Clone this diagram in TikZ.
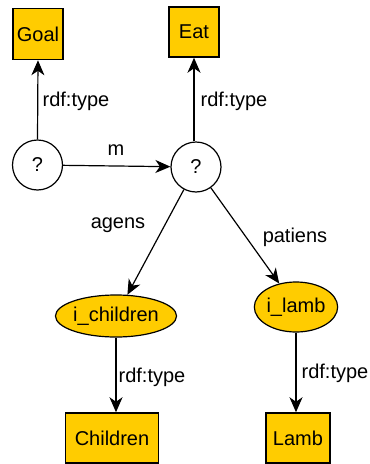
\documentclass[tikz,border=0pt]{standalone}
\usepackage{fontspec}
\setmainfont{Liberation Sans}
\usetikzlibrary{arrows.meta,shapes.geometric}
\definecolor{gold}{HTML}{FFCC00}
\begin{document}
\begin{tikzpicture}[x=1pt,y=-1pt,
  every node/.style={font=\fontsize{20}{22}\selectfont},
  cls/.style={draw,line width=1.5pt,fill=gold,rectangle,inner sep=0pt},
  var/.style={draw,line width=1.2pt,fill=white,circle,minimum size=50pt,inner sep=0pt},
  inst/.style={draw,line width=1.2pt,fill=gold,ellipse,inner sep=0pt},
  edge/.style={line width=1.2pt,-{Stealth[length=15pt,width=13pt,inset=4.5pt]}},
  lbl/.style={inner sep=0pt}]
\useasboundingbox (0,0) rectangle (370,464);
\node[cls,minimum width=50pt,minimum height=51pt] (goal) at (38,34) {Goal};
\node[cls,minimum width=50pt,minimum height=50pt] (eat) at (194,32) {Eat};
\node[var] (q1) at (37.5,165) {?};
\node[var] (q2) at (196,167) {?};
\node[inst,minimum width=115pt,minimum height=42pt] (ich) at (116,316) {i\_children};
\node[inst,minimum width=82pt,minimum height=50pt] (ila) at (296,307) {i\_lamb};
\node[cls,minimum width=93pt,minimum height=50pt] (chi) at (112,438) {Children};
\node[cls,minimum width=64pt,minimum height=50pt] (lam) at (298,438) {Lamb};
\draw[edge] (q1.north) -- (goal.south);
\draw[edge] (q2.north -| eat.south) -- (eat.south);
\draw[edge] (q1) -- (q2);
\draw[edge] (q2) -- (ich);
\draw[edge] (q2) -- (ila);
\draw[edge] (ich.south) -- (ich.south |- chi.north);
\draw[edge] (ila.south) -- (ila.south |- lam.north);
\node[lbl] (l1) at (76,101) {rdf:type};
\node[lbl] (l2) at (234,101) {rdf:type};
\node[lbl] (lm) at (116,150) {m};
\node[lbl] (la) at (118,225) {agens};
\node[lbl] (lp) at (295,237) {patiens};
\node[lbl] (l3) at (152,377) {rdf:type};
\node[lbl] (l4) at (335,373) {rdf:type};
\end{tikzpicture}
\end{document}
